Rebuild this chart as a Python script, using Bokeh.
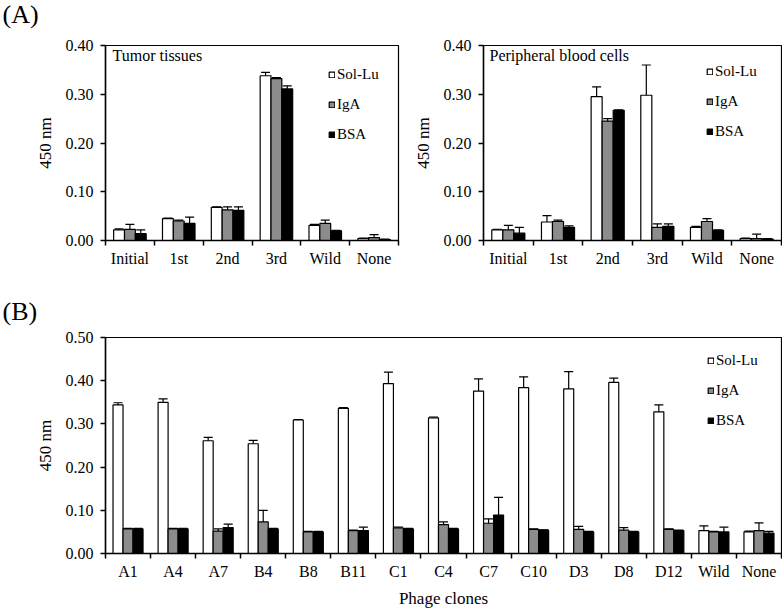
from bokeh.plotting import figure
from bokeh.models import (Range1d, LinearAxis, FixedTicker, NumeralTickFormatter, Whisker,
                          ColumnDataSource, Legend, LegendItem, Label, TeeHead, Title)
from bokeh.layouts import column, row
from bokeh.embed import file_html
from bokeh.resources import INLINE

# ---------------- data ----------------
series = ["Sol-Lu", "IgA", "BSA"]
series_colors = ["white", "#8c8c8c", "black"]

a_cats = ["Initial", "1st", "2nd", "3rd", "Wild", "None"]
tumor_sollu = [0.022, 0.045, 0.068, 0.338, 0.031, 0.004]
tumor_sollu_err = [0.002, 0.001, 0.001, 0.007, 0.002, 0.001]
tumor_iga = [0.023, 0.040, 0.063, 0.332, 0.035, 0.006]
tumor_iga_err = [0.010, 0.002, 0.006, 0.002, 0.007, 0.006]
tumor_bsa = [0.014, 0.035, 0.062, 0.311, 0.020, 0.002]
tumor_bsa_err = [0.008, 0.013, 0.007, 0.006, 0.001, 0.001]

blood_sollu = [0.022, 0.038, 0.295, 0.298, 0.027, 0.004]
blood_sollu_err = [0.001, 0.013, 0.020, 0.062, 0.002, 0.001]
blood_iga = [0.022, 0.039, 0.245, 0.027, 0.039, 0.004]
blood_iga_err = [0.009, 0.003, 0.005, 0.007, 0.006, 0.009]
blood_bsa = [0.015, 0.027, 0.267, 0.029, 0.021, 0.003]
blood_bsa_err = [0.012, 0.003, 0.001, 0.005, 0.001, 0.001]

b_cats = ["A1", "A4", "A7", "B4", "B8", "B11", "C1", "C4", "C7", "C10", "D3", "D8", "D12", "Wild", "None"]
clone_sollu = [0.344, 0.350, 0.261, 0.254, 0.309, 0.336, 0.393, 0.314, 0.376, 0.384, 0.381, 0.396, 0.328, 0.053, 0.050]
clone_sollu_err = [0.005, 0.008, 0.008, 0.008, 0.001, 0.002, 0.027, 0.002, 0.028, 0.025, 0.040, 0.010, 0.016, 0.011, 0.002]
clone_iga = [0.057, 0.057, 0.052, 0.073, 0.050, 0.053, 0.059, 0.067, 0.070, 0.056, 0.056, 0.054, 0.056, 0.050, 0.053]
clone_iga_err = [0.001, 0.001, 0.005, 0.027, 0.001, 0.001, 0.002, 0.006, 0.010, 0.001, 0.007, 0.006, 0.001, 0.001, 0.018]
clone_bsa = [0.057, 0.057, 0.060, 0.057, 0.050, 0.053, 0.057, 0.057, 0.089, 0.054, 0.050, 0.050, 0.053, 0.050, 0.047]
clone_bsa_err = [0.001, 0.001, 0.008, 0.001, 0.001, 0.008, 0.001, 0.001, 0.041, 0.001, 0.001, 0.001, 0.001, 0.011, 0.004]

FONT = "Liberation Serif"
BAR_W = 0.222


def make_panel(cats, vals, errs, ymax, ystep, width, height, borders, title=None,
               title_pos=None, legend_pos=None, xlabel=None, panel_tag=None,
               tag_standoff=0, tag_valign="top"):
    n = len(cats)
    p = figure(width=width, height=height, output_backend="svg", toolbar_location=None,
               x_range=Range1d(0, n), y_range=Range1d(0, ymax),
               x_axis_type=None, y_axis_type=None,
               min_border_left=borders[0], min_border_right=borders[1],
               min_border_top=borders[2], min_border_bottom=borders[3])
    p.xgrid.visible = False
    p.ygrid.visible = False
    p.outline_line_color = "black"
    p.outline_line_width = 1.2
    p.background_fill_color = "white"
    p.border_fill_color = "white"
    p.title.visible = False

    if panel_tag:
        tag = Title(text=panel_tag, align="left", offset=-(borders[0] - 2),
                    text_font=FONT, text_font_size="26px", text_font_style="normal",
                    text_color="black", standoff=tag_standoff, vertical_align=tag_valign)
        p.add_layout(tag, "above")

    # y axis
    nt = int(round(ymax / ystep))
    yax = LinearAxis(ticker=FixedTicker(ticks=[round(i * ystep, 2) for i in range(nt + 1)]),
                     formatter=NumeralTickFormatter(format="0.00"))
    yax.axis_label = "450 nm"
    yax.axis_label_text_font = FONT
    yax.axis_label_text_font_size = "17px"
    yax.axis_label_text_font_style = "normal"
    yax.axis_label_text_color = "black"
    yax.axis_label_standoff = 8
    yax.major_label_text_font = FONT
    yax.major_label_text_font_size = "16px"
    yax.major_label_text_color = "black"
    yax.major_label_standoff = 7
    yax.major_tick_in = 0
    yax.major_tick_out = 5
    yax.minor_tick_line_color = None
    yax.axis_line_width = 1.5
    yax.major_tick_line_width = 1.5
    p.add_layout(yax, "left")

    # x axis: labels at category centres, tick marks at category boundaries
    centers = [i + 0.5 for i in range(n)]
    xax = LinearAxis(ticker=FixedTicker(ticks=centers, minor_ticks=list(range(n + 1))))
    xax.major_label_overrides = {c: name for c, name in zip(centers, cats)}
    xax.axis_line_width = 1.5
    xax.major_tick_line_color = None
    xax.major_tick_in = 0
    xax.major_tick_out = 0
    xax.minor_tick_line_color = "black"
    xax.minor_tick_line_width = 1.5
    xax.minor_tick_in = 0
    xax.minor_tick_out = 5
    xax.major_label_standoff = 4
    xax.major_label_text_font = FONT
    xax.major_label_text_font_size = "16px"
    xax.major_label_text_color = "black"
    if xlabel:
        xax.axis_label = xlabel
        xax.axis_label_text_font = FONT
        xax.axis_label_text_font_size = "17px"
        xax.axis_label_text_font_style = "normal"
        xax.axis_label_text_color = "black"
        xax.axis_label_standoff = 6
    p.add_layout(xax, "below")

    items = []
    for k, (name, color) in enumerate(zip(series, series_colors)):
        xs = [i + 0.5 + (k - 1) * BAR_W for i in range(n)]
        src = ColumnDataSource(dict(x=xs, top=vals[k],
                                    upper=[v + e for v, e in zip(vals[k], errs[k])],
                                    lower=[v - e for v, e in zip(vals[k], errs[k])]))
        r = p.vbar(x="x", top="top", width=BAR_W, bottom=0, source=src,
                   fill_color=color, line_color="black", line_width=1.2)
        items.append(LegendItem(label=name, renderers=[r]))
        w = Whisker(base="x", upper="upper", lower="lower", source=src,
                    line_color="black", line_width=1.2,
                    upper_head=TeeHead(size=9, line_color="black", line_width=1.2),
                    lower_head=TeeHead(size=9, line_color="black", line_width=1.2))
        p.add_layout(w)

    leg = Legend(items=items, location=legend_pos, orientation="vertical",
                 glyph_width=7, glyph_height=7, label_height=18, label_standoff=2,
                 spacing=12, padding=0, margin=0,
                 label_text_font=FONT, label_text_font_size="15px", label_text_color="black",
                 background_fill_alpha=0, border_line_color=None)
    p.add_layout(leg)

    if title:
        p.add_layout(Label(x=title_pos[0], y=title_pos[1], x_units="screen", y_units="screen",
                           text=title, text_font=FONT, text_font_size="16px",
                           text_color="black", text_baseline="top", text_align="left"))
    return p


# small strip carrying the "(A)" panel tag above the left chart
# (its frame is aligned with the chart below it, so the tag is shifted left)
TAG_H = 30
tagA = figure(width=404, height=TAG_H, output_backend="svg", toolbar_location=None,
              x_range=Range1d(0, 1), y_range=Range1d(0, 1),
              x_axis_type=None, y_axis_type=None,
              min_border_left=105, min_border_right=6, min_border_top=0, min_border_bottom=0)
tagA.xgrid.visible = False
tagA.ygrid.visible = False
tagA.outline_line_color = None
tagA.background_fill_color = "white"
tagA.border_fill_color = "white"
tagA.title.text = "(A)"
tagA.title.align = "left"
tagA.title.offset = -103
tagA.title.standoff = 0
tagA.title.vertical_align = "top"
tagA.title.text_font = FONT
tagA.title.text_font_size = "26px"
tagA.title.text_font_style = "normal"
tagA.title.text_color = "black"

pA1 = make_panel(a_cats, [tumor_sollu, tumor_iga, tumor_bsa],
                 [tumor_sollu_err, tumor_iga_err, tumor_bsa_err],
                 0.40, 0.10, 404, 280 - TAG_H, (105, 6, 45 - TAG_H, 40),
                 title="Tumor tissues", title_pos=(7, 194),
                 legend_pos=(223, 97))
pA2 = make_panel(a_cats, [blood_sollu, blood_iga, blood_bsa],
                 [blood_sollu_err, blood_iga_err, blood_bsa_err],
                 0.40, 0.10, 378, 280, (79, 1, 45, 40),
                 title="Peripheral blood cells", title_pos=(6, 194),
                 legend_pos=(223, 100))
pB = make_panel(b_cats, [clone_sollu, clone_iga, clone_bsa],
                [clone_sollu_err, clone_iga_err, clone_bsa_err],
                0.50, 0.10, 782, 330, (105, 1, 57, 55),
                xlabel="Phage clones", legend_pos=(602, 124),
                panel_tag="(B)", tag_standoff=24, tag_valign="bottom")

layout = column(row(column(tagA, pA1), pA2), pB)
open("out.html", "w").write(file_html(layout, INLINE))
